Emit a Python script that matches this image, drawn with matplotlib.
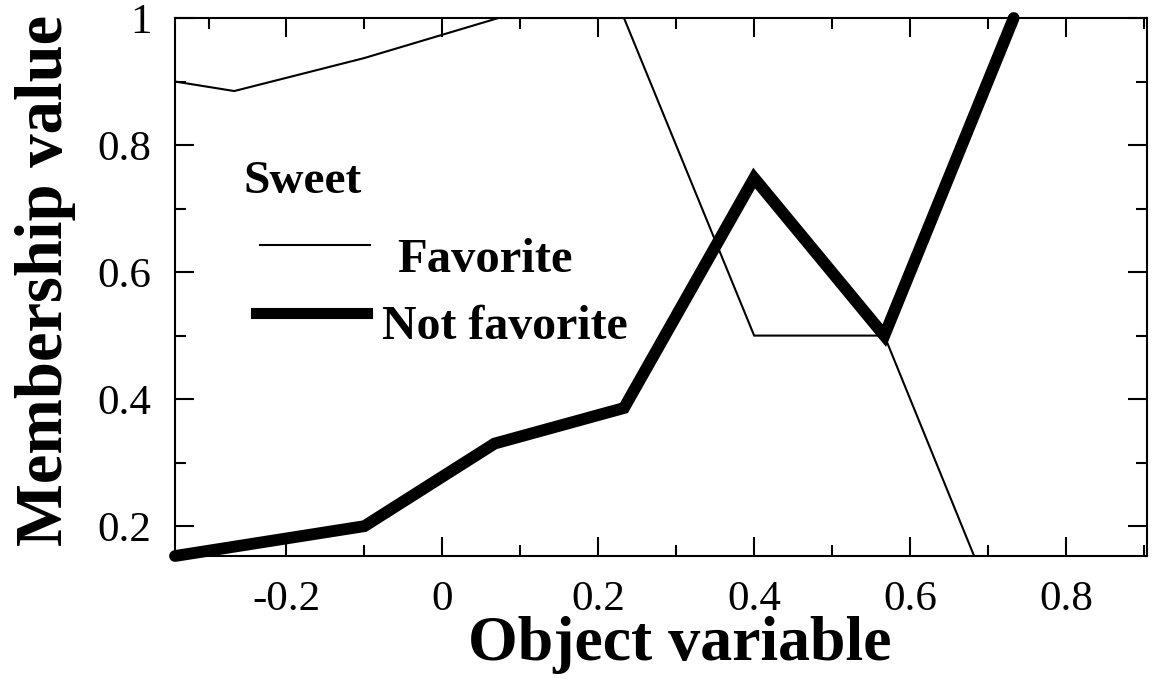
import matplotlib
matplotlib.use("Agg")
import matplotlib.pyplot as plt
from matplotlib.ticker import FixedLocator

x_fav = [-0.343, -0.267, -0.1, 0.072, 0.233, 0.4, 0.567, 0.733]
y_fav = [0.90, 0.885, 0.937, 1.0, 1.0, 0.5, 0.5, 0.0]
x_not = [-0.343, -0.1, 0.067, 0.233, 0.4, 0.567, 0.733]
y_not = [0.153, 0.2, 0.33, 0.386, 0.748, 0.5, 1.0]

xticks = [-0.2, 0, 0.2, 0.4, 0.6, 0.8]
xticklabels = ["-0.2", "0", "0.2", "0.4", "0.6", "0.8"]
yticks = [0.2, 0.4, 0.6, 0.8, 1.0]
yticklabels = ["0.2", "0.4", "0.6", "0.8", "1"]

plt.rcParams['font.family'] = ['Liberation Serif', 'DejaVu Serif']

W, H = 1152, 679
fig = plt.figure(figsize=(W/100, H/100), dpi=100)
ax = fig.add_axes([175/W, 1-556/H, (1147-175)/W, (556-18)/H])

ax.plot(x_fav, y_fav, color='black', lw=1.5, solid_joinstyle='miter')
ax.plot(x_not, y_not, color='black', lw=8.5, solid_capstyle='round',
        solid_joinstyle='miter', clip_on=False)

ax.set_xlim(-0.343, 0.904)
ax.set_ylim(0.153, 1.0)
ax.xaxis.set_major_locator(FixedLocator(xticks))
ax.set_xticklabels(xticklabels)
ax.yaxis.set_major_locator(FixedLocator(yticks))
ax.set_yticklabels(yticklabels)
ax.xaxis.set_minor_locator(FixedLocator([-0.3, -0.1, 0.1, 0.3, 0.5, 0.7, 0.9]))
ax.yaxis.set_minor_locator(FixedLocator([0.3, 0.5, 0.7, 0.9]))
ax.tick_params(which='both', direction='in', top=True, right=True, width=1.5,
               labelsize=31)
ax.tick_params(axis='x', which='major', pad=18)
ax.tick_params(axis='y', which='major', pad=17)
ax.tick_params(which='major', length=14)
ax.tick_params(which='minor', length=8)
for s in ax.spines.values():
    s.set_linewidth(1.5)

fig.text(680/W, 1-660/H, "Object variable", fontsize=46, fontweight='bold',
         ha='center', va='baseline')
fig.text(62/W, 1-280/H, "Membership value", fontsize=48, fontweight='bold',
         ha='center', va='baseline', rotation=90, rotation_mode='anchor')

# legend
fig.text(243/W, 1-182/H, "Sweet", fontsize=34,
         fontweight='bold', va='center', ha='left')
fig.add_artist(plt.Line2D([260/W, 370/W], [1-245/H, 1-245/H],
                          color='black', lw=1.5))
fig.add_artist(plt.Line2D([256/W, 367/W], [1-313/H, 1-313/H],
                          color='black', lw=8.0))
fig.text(397/W, 1-260/H, "Favorite", fontsize=35,
         fontweight='bold', va='center', ha='left')
fig.text(382/W, 1-327/H, "Not favorite", fontsize=34.5,
         fontweight='bold', va='center', ha='left')

fig.savefig("out.png", dpi=100)
